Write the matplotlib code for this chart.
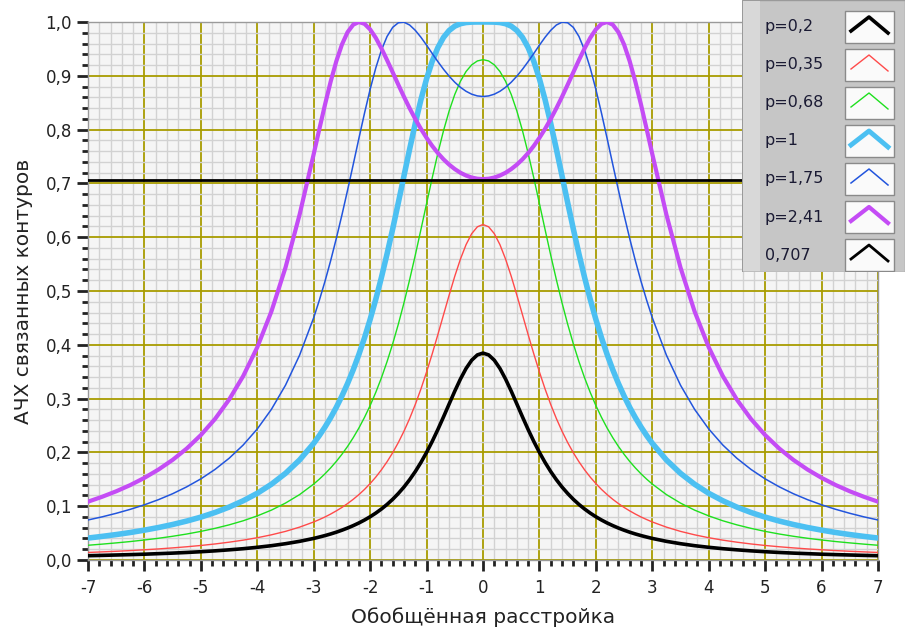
import numpy as np
import matplotlib
matplotlib.use('Agg')
import matplotlib.pyplot as plt
from matplotlib.ticker import MultipleLocator, FuncFormatter
from matplotlib.patches import Rectangle

# detuning values read for the right half (curves are symmetric about 0)
xi = [0, 0.1, 0.2, 0.3, 0.4, 0.5, 0.6, 0.7, 0.8, 0.9, 1.0,
      1.1, 1.2, 1.3, 1.4, 1.5, 1.6, 1.7, 1.8, 1.9, 2.0,
      2.1, 2.2, 2.3, 2.4, 2.5, 2.6, 2.7, 2.8, 2.9, 3.0,
      3.25, 3.5, 3.75, 4.0, 4.25, 4.5, 4.75, 5.0,
      5.25, 5.5, 5.75, 6.0, 6.25, 6.5, 6.75, 7.0]

k_020 = [0.3846, 0.3812, 0.3714, 0.3560, 0.3363, 0.3139, 0.2900, 0.2659, 0.2425, 0.2204, 0.2000,
         0.1813, 0.1644, 0.1493, 0.1357, 0.1237, 0.1129, 0.1033, 0.0948, 0.0872, 0.0804,
         0.0743, 0.0688, 0.0639, 0.0594, 0.0554, 0.0517, 0.0484, 0.0454, 0.0427, 0.0401,
         0.0347, 0.0303, 0.0266, 0.0236, 0.0210, 0.0189, 0.0170, 0.0154,
         0.0140, 0.0128, 0.0118, 0.0108, 0.0100, 0.0093, 0.0086, 0.0080]
k_035 = [0.6236, 0.6193, 0.6066, 0.5862, 0.5593, 0.5275, 0.4923, 0.4557, 0.4189, 0.3832, 0.3494,
         0.3179, 0.2891, 0.2630, 0.2395, 0.2184, 0.1995, 0.1827, 0.1676, 0.1541, 0.1421,
         0.1312, 0.1215, 0.1128, 0.1049, 0.0977, 0.0913, 0.0854, 0.0800, 0.0752, 0.0707,
         0.0611, 0.0532, 0.0468, 0.0414, 0.0369, 0.0331, 0.0298, 0.0270,
         0.0246, 0.0225, 0.0206, 0.0190, 0.0175, 0.0162, 0.0151, 0.0140]
k_068 = [0.9300, 0.9276, 0.9204, 0.9080, 0.8898, 0.8654, 0.8346, 0.7979, 0.7560, 0.7103, 0.6625,
         0.6142, 0.5666, 0.5211, 0.4782, 0.4385, 0.4020, 0.3688, 0.3387, 0.3116, 0.2871,
         0.2651, 0.2452, 0.2273, 0.2111, 0.1965, 0.1832, 0.1712, 0.1602, 0.1503, 0.1412,
         0.1216, 0.1058, 0.0927, 0.0820, 0.0729, 0.0653, 0.0588, 0.0532,
         0.0483, 0.0441, 0.0404, 0.0372, 0.0343, 0.0318, 0.0295, 0.0274]
k_100 = [1.0000, 1.0000, 0.9998, 0.9990, 0.9968, 0.9923, 0.9842, 0.9713, 0.9524, 0.9269, 0.8944,
         0.8556, 0.8115, 0.7638, 0.7142, 0.6644, 0.6156, 0.5691, 0.5253, 0.4846, 0.4472,
         0.4130, 0.3819, 0.3536, 0.3280, 0.3048, 0.2837, 0.2646, 0.2472, 0.2314, 0.2169,
         0.1860, 0.1611, 0.1408, 0.1240, 0.1101, 0.0983, 0.0883, 0.0797,
         0.0724, 0.0660, 0.0604, 0.0555, 0.0511, 0.0473, 0.0439, 0.0408]
k_175 = [0.8615, 0.8626, 0.8658, 0.8712, 0.8786, 0.8880, 0.8993, 0.9122, 0.9264, 0.9415, 0.9569,
         0.9716, 0.9845, 0.9944, 0.9996, 0.9986, 0.9901, 0.9732, 0.9478, 0.9146, 0.8749,
         0.8305, 0.7833, 0.7351, 0.6874, 0.6413, 0.5975, 0.5563, 0.5181, 0.4829, 0.4504,
         0.3808, 0.3249, 0.2800, 0.2436, 0.2137, 0.1890, 0.1683, 0.1508,
         0.1360, 0.1232, 0.1122, 0.1026, 0.0942, 0.0868, 0.0802, 0.0744]
k_241 = [0.7080, 0.7087, 0.7109, 0.7146, 0.7198, 0.7266, 0.7349, 0.7448, 0.7564, 0.7697, 0.7847,
         0.8013, 0.8197, 0.8396, 0.8609, 0.8833, 0.9063, 0.9291, 0.9509, 0.9705, 0.9862,
         0.9966, 1.0000, 0.9950, 0.9811, 0.9581, 0.9269, 0.8891, 0.8465, 0.8010, 0.7546,
         0.6421, 0.5436, 0.4619, 0.3955, 0.3418, 0.2980, 0.2620, 0.2322,
         0.2072, 0.1861, 0.1682, 0.1527, 0.1393, 0.1277, 0.1175, 0.1084]
level = 0.707

labels = ['p=0,2', 'p=0,35', 'p=0,68', 'p=1', 'p=1,75', 'p=2,41', '0,707']
colors = ['#000000', '#ff4a4a', '#1ee01e', '#4cc0f2', '#2255dd', '#c44cf5', '#000000']
widths = [2.6, 1.0, 1.0, 4.0, 1.1, 3.0, 2.0]


def mirror(half):
    half = np.asarray(half, dtype=float)
    return np.concatenate([half[::-1], half[1:]])


x = np.concatenate([-np.asarray(xi)[::-1], np.asarray(xi)[1:]])
series = [k_020, k_035, k_068, k_100, k_175, k_241]

fig = plt.figure(figsize=(9.05, 6.32), dpi=100)
ax = fig.add_axes([88 / 905, 1 - 560 / 632, 790 / 905, 538 / 632])
ax.set_facecolor('#f5f5f5')

# grid
ax.xaxis.set_major_locator(MultipleLocator(1))
ax.xaxis.set_minor_locator(MultipleLocator(0.2))
ax.yaxis.set_major_locator(MultipleLocator(0.1))
ax.yaxis.set_minor_locator(MultipleLocator(0.02))
ax.grid(which='minor', color='#d2d2d2', lw=1.0)
ax.grid(which='major', color='#a89c00', lw=1.3)
ax.set_axisbelow(True)

for i, s in enumerate(series):
    ax.plot(x, mirror(s), color=colors[i], lw=widths[i], solid_joinstyle='round', zorder=3)
ax.axhline(level, color=colors[6], lw=widths[6], zorder=3)

ax.set_xlim(-7, 7)
ax.set_ylim(0, 1)
ax.yaxis.set_major_formatter(FuncFormatter(lambda v, p: f'{v:.1f}'.replace('.', ',')))
ax.xaxis.set_major_formatter(FuncFormatter(lambda v, p: f'{v:.0f}'))
ax.tick_params(which='major', length=8, width=2, labelsize=12, colors='#222222')
ax.tick_params(which='minor', length=4, width=2, colors='#222222')
ax.tick_params(axis='x', pad=6)
for sp in ax.spines.values():
    sp.set_color('#9a9a9a')
    sp.set_linewidth(1)

ax.set_xlabel('Обобщённая расстройка', fontsize=14.5, color='#222222', labelpad=7)
ax.set_ylabel('АЧХ связанных контуров', fontsize=14.5, color='#222222', labelpad=9)

# legend panel drawn by hand, like the original instrument plot
lg = fig.add_axes([742 / 905, 1 - 272 / 632, 163 / 905, 272 / 632])
lg.set_xlim(0, 163)
lg.set_ylim(272, 0)
lg.axis('off')
lg.add_patch(Rectangle((0, 0), 163, 272, facecolor='#c6c6c6', edgecolor='#9a9a9a', lw=1))
lg.add_patch(Rectangle((1, 1), 17, 270, facecolor='#d8d8d8', edgecolor='none'))
for i, lab in enumerate(labels):
    yc = 27 + i * 38
    lg.text(23, yc, lab, fontsize=11.5, color='#1a1a33', va='center', ha='left')
    lg.add_patch(Rectangle((103, yc - 16), 49, 32, facecolor='#fafafa',
                           edgecolor='#8a8a8a', lw=1))
    lg.plot([109, 127, 146], [yc + 4, yc - 10, yc + 6], color=colors[i],
            lw=min(widths[i], 3.5), solid_joinstyle='round')

fig.savefig('out.png', dpi=100)
